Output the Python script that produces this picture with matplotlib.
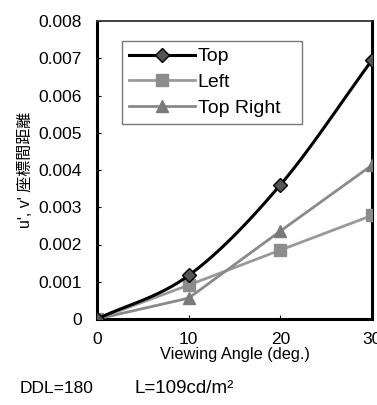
import numpy as np
import matplotlib
matplotlib.use("Agg")
import matplotlib.pyplot as plt

plt.rcParams['font.family'] = ['Liberation Sans', 'Noto Sans CJK JP']

angles = [0, 10, 20, 30]
top = [0.0, 0.00117, 0.00360, 0.00695]
left = [0.0, 0.00091, 0.00185, 0.00278]
top_right = [0.0, 0.00056, 0.00236, 0.00413]


def smooth(x, y, n=30):
    # Catmull-Rom style smoothing between points, like a spreadsheet "smoothed line"
    x = np.asarray(x, float)
    y = np.asarray(y, float)
    px = np.concatenate([[2 * x[0] - x[1]], x, [2 * x[-1] - x[-2]]])
    py = np.concatenate([[2 * y[0] - y[1]], y, [2 * y[-1] - y[-2]]])
    xs, ys = [], []
    t = np.linspace(0, 1, n)
    for i in range(1, len(px) - 2):
        for p, out in ((px, xs), (py, ys)):
            p0, p1, p2, p3 = p[i - 1], p[i], p[i + 1], p[i + 2]
            out.extend(0.5 * ((2 * p1) + (-p0 + p2) * t
                              + (2 * p0 - 5 * p1 + 4 * p2 - p3) * t ** 2
                              + (-p0 + 3 * p1 - 3 * p2 + p3) * t ** 3))
    return xs, ys


fig = plt.figure(figsize=(3.77, 4.05), dpi=100)
ax = fig.add_axes([97 / 377, 1 - 319 / 405, 275 / 377, 298 / 405])

sx, sy = smooth(angles, top)
ax.plot(sx, sy, color='black', lw=2.2, zorder=4)
ax.plot(angles, top, ls='none', marker='D', ms=7, mfc='#555555', mec='black', zorder=5)
ax.plot(angles, left, color='#999999', lw=2, marker='s', ms=8, mfc='#8c8c8c', mec='#8c8c8c', zorder=3)
ax.plot(angles, top_right, color='#8a8a8a', lw=2, marker='^', ms=8, mfc='#7a7a7a', mec='#7a7a7a', zorder=3)

# legend entries drawn with the same styles
h1, = ax.plot([], [], color='black', lw=2.2, marker='D', ms=7, mfc='#555555', mec='black')
h2, = ax.plot([], [], color='#999999', lw=2, marker='s', ms=8, mfc='#8c8c8c', mec='#8c8c8c')
h3, = ax.plot([], [], color='#8a8a8a', lw=2, marker='^', ms=8, mfc='#7a7a7a', mec='#7a7a7a')
leg = ax.legend([h1, h2, h3], ['Top', 'Left', 'Top Right'], loc='upper left',
                bbox_to_anchor=(0.091, 0.933, 0.654, 0.0), mode='expand',
                fontsize=14, frameon=True, fancybox=False,
                edgecolor='#555555', handlelength=3.4, handletextpad=0.15,
                labelspacing=0.42, borderpad=0.35, borderaxespad=0)
leg.get_frame().set_linewidth(1.0)

ax.set_xlim(0, 30)
ax.set_ylim(0, 0.008)
ax.set_xticks([0, 10, 20, 30])
ax.set_yticks(np.arange(0, 0.0081, 0.001))
ax.set_yticklabels(['0', '0.001', '0.002', '0.003', '0.004', '0.005', '0.006', '0.007', '0.008'])
ax.tick_params(direction='in', length=3, width=0.8, labelsize=12.5, pad=11)
ax.tick_params(axis='x', pad=9)

for side in ['left', 'bottom', 'right']:
    ax.spines[side].set_linewidth(2.2)
ax.spines['top'].set_linewidth(1.3)
ax.spines['top'].set_color('#333333')

ax.set_xlabel('Viewing Angle (deg.)', fontsize=11.8, labelpad=0)
ax.set_ylabel("u', v' 座標間距離", fontsize=11.5, labelpad=4)

fig.text(20 / 377, 1 - 393 / 405, 'DDL=180', fontsize=12.5, va='baseline')
fig.text(134 / 377, 1 - 393 / 405, 'L=109cd/m²', fontsize=13.5, va='baseline')

fig.savefig('out.png', dpi=100)
